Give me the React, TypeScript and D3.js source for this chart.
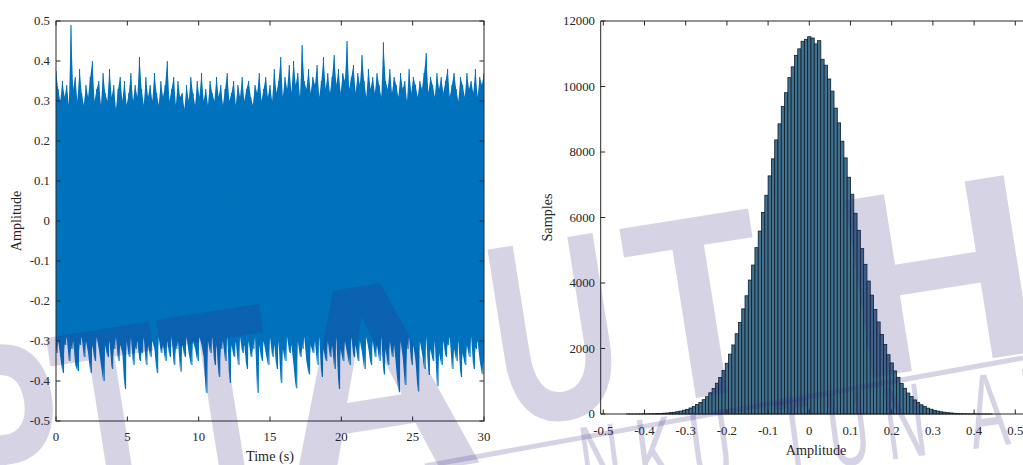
import React from 'react';
import * as d3 from 'd3';

// left panel: waveform peaks, one upper and one lower value per 0.15 s
const sampleStep = 0.15;
const upperPeaks = [
  0.375, 0.33, 0.30, 0.35, 0.31, 0.34, 0.29, 0.49, 0.33, 0.36,
  0.30, 0.38, 0.32, 0.29, 0.34, 0.31, 0.36, 0.40, 0.30, 0.33,
  0.35, 0.29, 0.37, 0.32, 0.30, 0.38, 0.31, 0.34, 0.28, 0.33,
  0.36, 0.30, 0.35, 0.29, 0.32, 0.37, 0.30, 0.34, 0.31, 0.41,
  0.33, 0.29, 0.36, 0.31, 0.34, 0.30, 0.37, 0.32, 0.29, 0.35,
  0.31, 0.34, 0.40, 0.30, 0.33, 0.36, 0.29, 0.35, 0.31, 0.32,
  0.28, 0.34, 0.30, 0.36, 0.32, 0.29, 0.35, 0.31, 0.37, 0.30,
  0.33, 0.29, 0.35, 0.32, 0.30, 0.36, 0.31, 0.34, 0.29, 0.33,
  0.37, 0.30, 0.32, 0.35, 0.29, 0.34, 0.31, 0.36, 0.30, 0.33,
  0.35, 0.31, 0.29, 0.34, 0.32, 0.37, 0.30, 0.33, 0.36, 0.31,
  0.34, 0.30, 0.38, 0.32, 0.35, 0.41, 0.31, 0.36, 0.33, 0.39,
  0.32, 0.40, 0.34, 0.37, 0.31, 0.44, 0.35, 0.33, 0.38, 0.32,
  0.36, 0.34, 0.39, 0.31, 0.35, 0.41, 0.33, 0.37, 0.32, 0.36,
  0.415, 0.34, 0.38, 0.32, 0.37, 0.35, 0.45, 0.33, 0.36, 0.39,
  0.32, 0.37, 0.34, 0.415, 0.35, 0.31, 0.38, 0.33, 0.36, 0.32,
  0.37, 0.34, 0.31, 0.447, 0.35, 0.33, 0.38, 0.32, 0.36, 0.34,
  0.31, 0.37, 0.33, 0.35, 0.30, 0.38, 0.32, 0.36, 0.34, 0.31,
  0.35, 0.33, 0.37, 0.42, 0.32, 0.36, 0.34, 0.31, 0.37, 0.33,
  0.36, 0.32, 0.35, 0.38, 0.31, 0.34, 0.37, 0.33, 0.30, 0.36,
  0.34, 0.31, 0.37, 0.33, 0.35, 0.32, 0.38, 0.31, 0.36, 0.34,
  0.37,
];
const lowerPeaks = [
  -0.33, -0.30, -0.34, -0.38, -0.31, -0.29, -0.35, -0.32, -0.30, -0.36,
  -0.375, -0.31, -0.29, -0.34, -0.30, -0.33, -0.38, -0.31, -0.35, -0.29,
  -0.32, -0.36, -0.40, -0.31, -0.34, -0.30, -0.37, -0.32, -0.29, -0.35,
  -0.31, -0.33, -0.42, -0.30, -0.34, -0.29, -0.36, -0.32, -0.30, -0.35,
  -0.33, -0.29, -0.36, -0.31, -0.34, -0.30, -0.32, -0.38, -0.29, -0.33,
  -0.31, -0.35, -0.30, -0.34, -0.29, -0.36, -0.32, -0.30, -0.377, -0.31,
  -0.34, -0.29, -0.33, -0.36, -0.30, -0.32, -0.35, -0.29, -0.31, -0.34,
  -0.43, -0.30, -0.33, -0.29, -0.36, -0.31, -0.39, -0.32, -0.30, -0.35,
  -0.29, -0.405, -0.31, -0.34, -0.30, -0.36, -0.29, -0.33, -0.31, -0.37,
  -0.30, -0.34, -0.32, -0.29, -0.43, -0.31, -0.35, -0.30, -0.33, -0.36,
  -0.29, -0.34, -0.31, -0.37, -0.30, -0.405, -0.32, -0.35, -0.29, -0.33,
  -0.31, -0.36, -0.418, -0.30, -0.34, -0.32, -0.29, -0.35, -0.384, -0.31,
  -0.33, -0.30, -0.36, -0.29, -0.39, -0.32, -0.35, -0.30, -0.34, -0.31,
  -0.37, -0.29, -0.42, -0.32, -0.35, -0.30, -0.33, -0.36, -0.29, -0.34,
  -0.31, -0.35, -0.30, -0.33, -0.37, -0.29, -0.32, -0.36, -0.30, -0.34,
  -0.31, -0.35, -0.29, -0.384, -0.32, -0.36, -0.30, -0.34, -0.31, -0.37,
  -0.428, -0.30, -0.34, -0.41, -0.32, -0.29, -0.36, -0.31, -0.35, -0.426,
  -0.30, -0.33, -0.37, -0.29, -0.385, -0.32, -0.35, -0.30, -0.413, -0.33,
  -0.36, -0.30, -0.34, -0.31, -0.29, -0.37, -0.32, -0.35, -0.30, -0.39,
  -0.33, -0.36, -0.31, -0.34, -0.29, -0.37, -0.32, -0.30, -0.35, -0.383,
  -0.34,
];
const timeTicks = [0, 5, 10, 15, 20, 25, 30];
const ampTicks = [-0.5, -0.4, -0.3, -0.2, -0.1, 0, 0.1, 0.2, 0.3, 0.4, 0.5];

// right panel: histogram, bins of 0.008 centred from -0.448 to 0.448
const binWidth = 0.008;
const firstBinCenter = -0.448;
const histCounts = [
  0, 1, 1, 1, 2, 3, 4, 5, 7, 10,
  13, 18, 24, 30, 42, 52, 70, 88, 115, 142,
  183, 226, 288, 350, 437, 528, 648, 776, 940, 1112,
  1330, 1548, 1828, 2108, 2450, 2796, 3210, 3610, 4090, 4548,
  5080, 5585, 6155, 6680, 7270, 7790, 8370, 8860, 9390, 9810,
  10270, 10600, 10950, 11150, 11380, 11440, 11520, 11480, 11300, 11400,
  10830, 10650, 10230, 9860, 9340, 8890, 8330, 7820, 7230, 6710,
  6130, 5610, 5050, 4570, 4060, 3630, 3190, 2810, 2430, 2120,
  1810, 1560, 1315, 1120, 930, 785, 640, 535, 430, 356,
  282, 230, 178, 146, 111, 90, 68, 54, 40, 32,
  22, 18, 12, 10, 7, 5, 4, 3, 2, 1,
  1, 1, 0,
];
const histXTicks = [-0.5, -0.4, -0.3, -0.2, -0.1, 0, 0.1, 0.2, 0.3, 0.4, 0.5];
const histYTicks = [0, 2000, 4000, 6000, 8000, 10000, 12000];

const axisColor = '#262626';
const serif = 'Liberation Serif, Times New Roman, serif';
const wmFill = 'rgb(50,34,124)';

export default function App() {
  const W = 1023, H = 465;

  const xT = d3.scaleLinear().domain([0, 30]).range([56, 484]);
  const yA = d3.scaleLinear().domain([-0.5, 0.5]).range([421, 21]);

  const pts: [number, number][] = [];
  upperPeaks.forEach((u, i) => {
    const t = i * sampleStep;
    pts.push([t, u]);
    if (i < lowerPeaks.length) pts.push([t + sampleStep / 2, lowerPeaks[i]]);
  });
  const wave = d3.line<[number, number]>().x(d => xT(d[0])).y(d => yA(d[1]))(pts) || '';
  const band = d3.area<number>()
    .x((_, i) => xT(i * sampleStep))
    .y0((_, i) => yA(lowerPeaks[i]))
    .y1(d => yA(d))(upperPeaks) || '';

  const xH = d3.scaleLinear().domain([-0.5063, 0.55]).range([600.7, 1035.9]);
  const yH = d3.scaleLinear().domain([0, 12000]).range([414, 21]);

  const tk = 4.5;

  return (
    <svg width={W} height={H} style={{ position: 'absolute', left: 0, top: 0 }}
      fontFamily={serif} fill={axisColor}>
      <rect width={W} height={H} fill="#fff" />
      <defs>
        <clipPath id="clipL"><rect x={56} y={21} width={428} height={400} /></clipPath>
      </defs>

      {/* left: waveform */}
      <g clipPath="url(#clipL)">
        <path d={band} fill="#0072BD" stroke="none" />
        <path d={wave} fill="none" stroke="#0072BD" strokeWidth={1.1} />
      </g>
      <rect x={56} y={21} width={428} height={400} fill="none" stroke={axisColor} strokeWidth={1} />
      {timeTicks.map(t => (
        <g key={'tt' + t}>
          <line x1={xT(t)} x2={xT(t)} y1={421} y2={421 - tk} stroke={axisColor} />
          <line x1={xT(t)} x2={xT(t)} y1={21} y2={21 + tk} stroke={axisColor} />
          <text x={xT(t)} y={441} fontSize={12.8} textAnchor="middle">{String(t)}</text>
        </g>
      ))}
      {ampTicks.map(v => (
        <g key={'at' + v}>
          <line x1={56} x2={56 + tk} y1={yA(v)} y2={yA(v)} stroke={axisColor} />
          <line x1={484} x2={484 - tk} y1={yA(v)} y2={yA(v)} stroke={axisColor} />
          <text x={50} y={yA(v)} dy="0.33em" fontSize={12.8} textAnchor="end">{String(v)}</text>
        </g>
      ))}
      <text x={270} y={461} fontSize={14.2} textAnchor="middle">Time (s)</text>
      <text transform="translate(21,221) rotate(-90)" fontSize={14.2} textAnchor="middle">Amplitude</text>

      {/* right: histogram */}
      {histCounts.map((c, i) => {
        const center = firstBinCenter + i * binWidth;
        const x0 = xH(center - binWidth / 2), x1 = xH(center + binWidth / 2);
        return (
          <rect key={'b' + i} x={x0} y={yH(c)} width={x1 - x0} height={yH(0) - yH(c)}
            fill="#40718f" stroke="#111d28" strokeWidth={0.8} />
        );
      })}
      <line x1={600.7} x2={600.7} y1={21} y2={414} stroke={axisColor} />
      <line x1={600.7} x2={W} y1={414} y2={414} stroke={axisColor} />
      <line x1={600.7} x2={W} y1={21} y2={21} stroke={axisColor} />
      {histXTicks.map(v => (
        <g key={'hx' + v}>
          <line x1={xH(v)} x2={xH(v)} y1={414} y2={414 - tk} stroke={axisColor} />
          <line x1={xH(v)} x2={xH(v)} y1={21} y2={21 + tk} stroke={axisColor} />
          <text x={xH(v)} y={435} fontSize={12.8} textAnchor="middle">{String(v)}</text>
        </g>
      ))}
      {histYTicks.map(v => (
        <g key={'hy' + v}>
          <line x1={600.7} x2={600.7 + tk} y1={yH(v)} y2={yH(v)} stroke={axisColor} />
          <text x={595} y={yH(v)} dy="0.33em" fontSize={12.8} textAnchor="end">{String(v)}</text>
        </g>
      ))}
      <text x={816} y={455} fontSize={14.2} textAnchor="middle">Amplitude</text>
      <text transform="translate(552,217.5) rotate(-90)" fontSize={14.2} textAnchor="middle">Samples</text>

      {/* watermark */}
      <g fill={wmFill} fillOpacity={0.2} fontFamily="Liberation Sans, Arial, sans-serif" fontWeight="bold">
        <text transform="translate(-50,540) rotate(-9) scale(0.72,1)" fontSize={270}>P</text>
        <text transform="translate(72,515) rotate(-9) scale(0.68,1)" fontSize={260}>T</text>
        <text transform="translate(182,497) rotate(-9) scale(0.68,1)" fontSize={260}>T</text>
        <text transform="translate(287,493) rotate(-9)" fontSize={280}>A</text>
        <text transform="translate(505,428) rotate(-9) scale(0.68,1)" fontSize={260}>U</text>
        <text transform="translate(645,406) rotate(-9) scale(0.85,1)" fontSize={260}>T</text>
        <text transform="translate(855,380) rotate(-9) scale(1.05,1)" fontSize={260}>H</text>
        <text transform="translate(1040,348) rotate(-9)" fontSize={260}>M</text>
      </g>
      <g fill={wmFill} fillOpacity={0.2} fontFamily="Liberation Sans, Arial, sans-serif">
        <text transform="translate(585,500) rotate(-7.5) scale(0.55,1)" fontSize={105} letterSpacing={28}>NKU TUN AMINAH</text>
      </g>
      <line x1={425} y1={466} x2={1023} y2={358} stroke={wmFill} strokeOpacity={0.2} strokeWidth={5} />
    </svg>
  );
}
